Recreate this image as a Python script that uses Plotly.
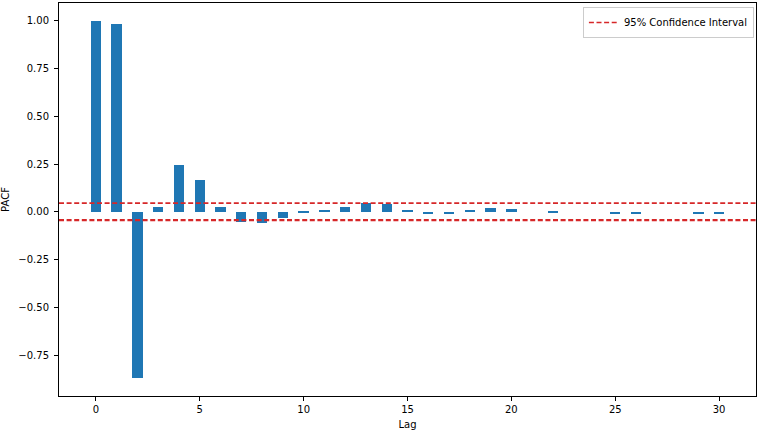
import plotly.graph_objects as go

lags = list(range(31))
pacf = [1.0, 0.984, -0.867, 0.028, 0.244, 0.166, 0.028, -0.054, -0.058, -0.03,
        -0.003, 0.012, 0.027, 0.045, 0.04, 0.012, -0.012, -0.012, 0.008, 0.022,
        0.017, 0.0, -0.002, 0.0, 0.0, -0.012, -0.012, 0.0, 0.0, -0.012, -0.012]
conf_upper = 0.046
conf_lower = -0.043
x_ticks = [0, 5, 10, 15, 20, 25, 30]
y_ticks = [-0.75, -0.5, -0.25, 0.0, 0.25, 0.5, 0.75, 1.0]

FONT = "DejaVu Sans"

fig = go.Figure()
fig.add_trace(go.Bar(x=lags, y=pacf, width=0.5, marker=dict(color="#1f77b4", line=dict(width=0)),
                     showlegend=False))

fig.add_shape(type="line", xref="x domain", x0=0, x1=1, yref="y", y0=conf_upper, y1=conf_upper,
              line=dict(color="#d62728", width=1.6, dash="5px,2.6px"),
              name="95% Confidence Interval", showlegend=True, legendgroup="ci")
fig.add_shape(type="line", xref="x domain", x0=0, x1=1, yref="y", y0=conf_lower, y1=conf_lower,
              line=dict(color="#d62728", width=2.4, dash="5px,2.6px"),
              showlegend=False, legendgroup="ci")

fig.update_layout(
    width=761, height=433,
    margin=dict(l=59, r=5, t=3, b=37),
    paper_bgcolor="white", plot_bgcolor="white",
    font=dict(family=FONT, size=10, color="black"),
    bargap=0,
    legend=dict(x=0.997, y=0.99, xanchor="right", yanchor="top",
                bgcolor="rgba(255,255,255,0.8)", bordercolor="#cccccc", borderwidth=1,
                font=dict(size=10, family=FONT)),
    xaxis=dict(range=[-1.775, 31.775], tickvals=x_ticks, ticks="outside", ticklen=4,
               tickcolor="black", showline=True, linecolor="black", linewidth=1, mirror=True,
               showgrid=False, zeroline=False,
               title=dict(text="Lag", font=dict(size=10), standoff=6)),
    yaxis=dict(range=[-0.9635, 1.0935], tickvals=y_ticks, tickformat=".2f", ticks="outside",
               ticklen=4, tickcolor="black", showline=True, linecolor="black", linewidth=1,
               mirror=True, showgrid=False, zeroline=False, ticklabelstandoff=3,
               title=dict(text="PACF", font=dict(size=10), standoff=6)),
)

fig.write_html("out.html")
